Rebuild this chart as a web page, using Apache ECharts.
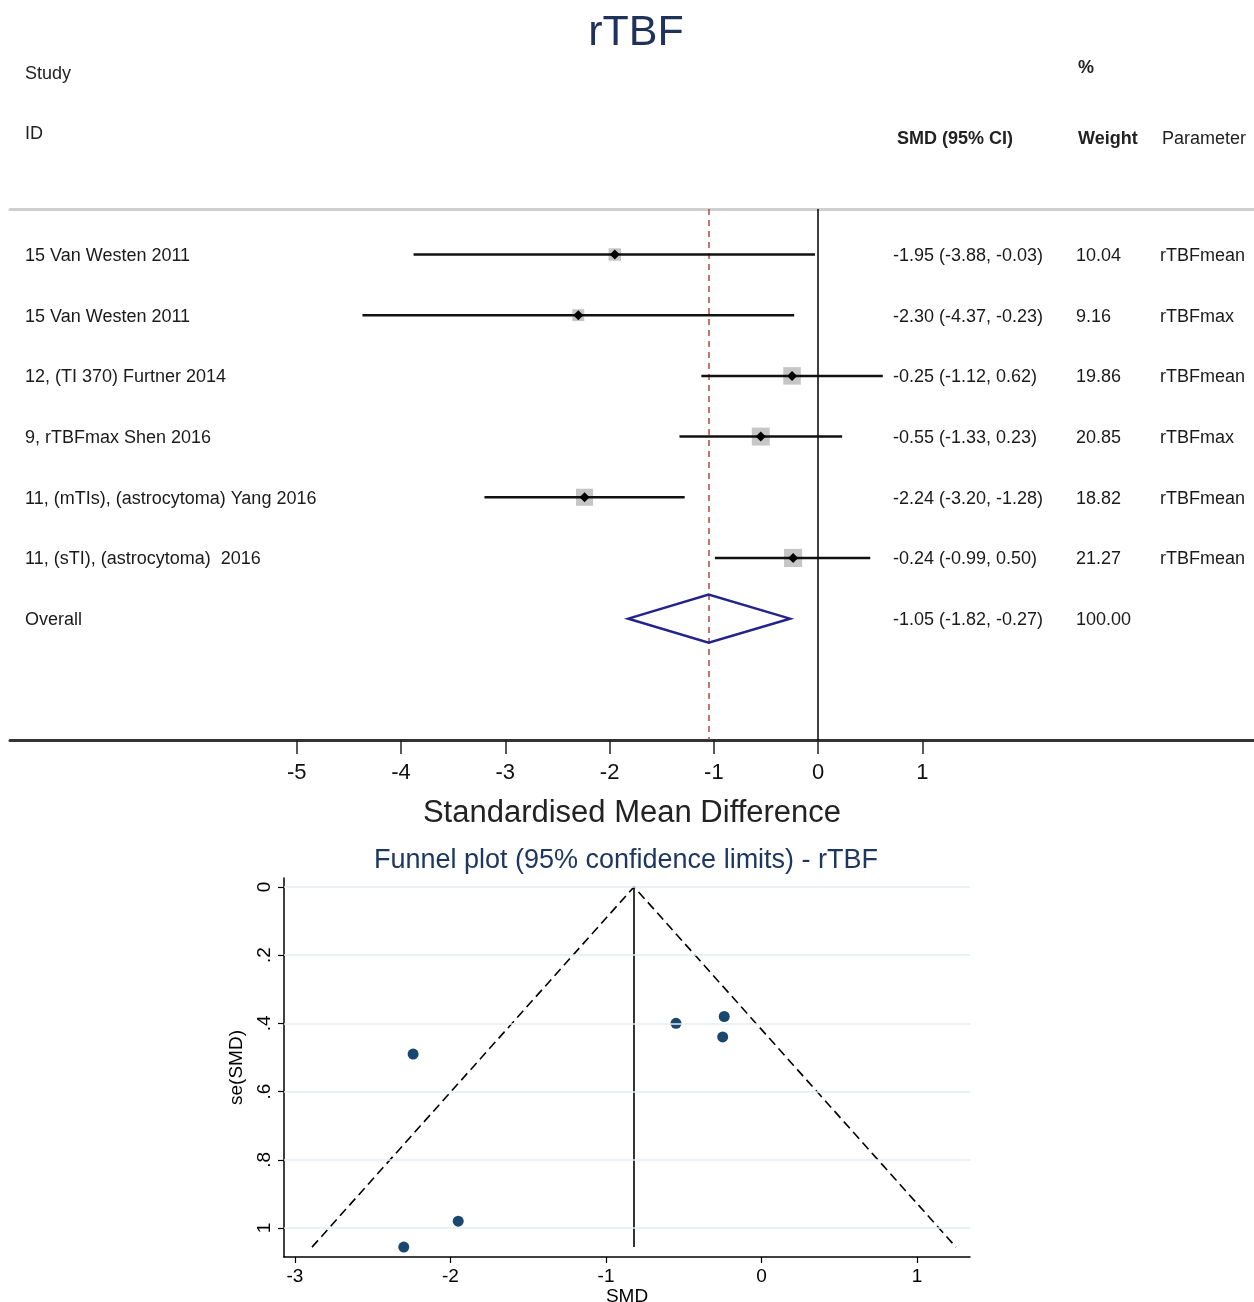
<!DOCTYPE html>
<html><head><meta charset="utf-8">
<script src="https://cdn.jsdelivr.net/npm/echarts@6/dist/echarts.min.js"></script>
<style>html,body{margin:0;padding:0;background:#fff}#c{width:1254px;height:1302px}</style>
</head><body><div id="c"></div><script>
// ---- forest plot data ----
const studies = ['15 Van Westen 2011','15 Van Westen 2011','12, (TI 370) Furtner 2014','9, rTBFmax Shen 2016','11, (mTIs), (astrocytoma) Yang 2016','11, (sTI), (astrocytoma)  2016'];
const smd = [-1.95,-2.30,-0.25,-0.55,-2.24,-0.24];
const ciLow = [-3.88,-4.37,-1.12,-1.33,-3.20,-0.99];
const ciHigh = [-0.03,-0.23,0.62,0.23,-1.28,0.50];
const weights = [10.04,9.16,19.86,20.85,18.82,21.27];
const params = ['rTBFmean','rTBFmax','rTBFmean','rTBFmax','rTBFmean','rTBFmean'];
const overallLabel = 'Overall';
const overallSmd = -1.05, overallLow = -1.82, overallHigh = -0.27, overallWeight = 100.00;
const forestTicks = [-5,-4,-3,-2,-1,0,1];
// ---- funnel plot data ----
const seSMD = [0.98,1.056,0.44,0.40,0.49,0.38];
const funnelCentre = -0.82;
const funnelBottomSe = 1.056;
const funnelLimits = [-2.89, 1.25];
const funnelXTicks = [-3,-2,-1,0,1];
const funnelYTicks = [0,0.2,0.4,0.6,0.8,1];

const FF = '"Liberation Sans", Arial, Helvetica, sans-serif';
const fmt2 = v => v.toFixed(2);
const ciText = (e,l,h) => fmt2(e)+' ('+fmt2(l)+', '+fmt2(h)+')';

const rows = smd.map((v,i)=>[v, ciLow[i], ciHigh[i], i+1, weights[i]]);
const overallRow = studies.length + 1;

const textRows = studies.map((s,i)=>({name:s, value:[0,i+1], smdTxt:ciText(smd[i],ciLow[i],ciHigh[i]), w:fmt2(weights[i]), p:params[i]}));
textRows.push({name:overallLabel, value:[0,overallRow], smdTxt:ciText(overallSmd,overallLow,overallHigh), w:fmt2(overallWeight), p:''});

const chart = echarts.init(document.getElementById('c'));
const txt = (x,y,t,extra) => ({type:'text', x, y, style:Object.assign({text:t, fontFamily:FF, fontSize:18, fill:'#222', align:'left', verticalAlign:'middle'}, extra||{})});

chart.setOption({
  animation:false,
  backgroundColor:'#fff',
  graphic:[
    txt(636,33,'rTBF',{fontSize:43, fill:'#1f3259', align:'center'}),
    txt(25,74,'Study'),
    txt(25,134,'ID'),
    txt(1078,68,'%',{fontWeight:'bold'}),
    txt(897,139,'SMD (95% CI)',{fontWeight:'bold'}),
    txt(1078,139,'Weight',{fontWeight:'bold'}),
    txt(1162,139,'Parameter'),
    txt(626,861,'Funnel plot (95% confidence limits) - rTBF',{fontSize:27, fill:'#1e3760', align:'center'})
  ],
  grid:[
    {left:10, right:0, top:209, height:531, outerBoundsMode:'none', containLabel:false},
    {left:284, width:686, top:878, height:379, outerBoundsMode:'none', containLabel:false}
  ],
  xAxis:[
    {gridIndex:0, type:'value', min:-7.75, max:4.18, position:'bottom',
     axisLine:{onZero:false, lineStyle:{color:'#333', width:3}},
     axisTick:{customValues:forestTicks, length:14, lineStyle:{color:'#222', width:1.5}},
     axisLabel:{customValues:forestTicks, fontSize:22, color:'#111', margin:22, fontFamily:FF},
     splitLine:{show:false},
     name:'Standardised Mean Difference', nameLocation:'middle', nameGap:58,
     nameTextStyle:{fontSize:31, color:'#222', fontFamily:FF}},
    {gridIndex:0, type:'value', min:-7.75, max:4.18, position:'top',
     axisLine:{onZero:false, lineStyle:{color:'#cfcfcf', width:3}},
     axisTick:{show:false}, axisLabel:{show:false}, splitLine:{show:false}},
    {gridIndex:1, type:'value', min:-3.07, max:1.34,
     axisLine:{onZero:false, lineStyle:{color:'#000', width:1.5}},
     axisTick:{customValues:funnelXTicks, length:6, lineStyle:{color:'#000', width:1.2}},
     axisLabel:{customValues:funnelXTicks, fontSize:19, color:'#000', margin:10, fontFamily:FF},
     splitLine:{show:false},
     name:'SMD', nameLocation:'middle', nameGap:28,
     nameTextStyle:{fontSize:19, color:'#000', fontFamily:FF}}
  ],
  yAxis:[
    {gridIndex:0, type:'value', min:0.25, max:9, inverse:true, show:false},
    {gridIndex:1, type:'value', min:-0.026, max:1.085, inverse:true,
     axisLine:{show:true, onZero:false, lineStyle:{color:'#000', width:1.5}},
     axisTick:{show:true, customValues:funnelYTicks, length:6, lineStyle:{color:'#000', width:1.2}},
     axisLabel:{customValues:funnelYTicks, rotate:90, fontSize:19, color:'#000', margin:10, fontFamily:FF,
       formatter:v => (v===0?'0':(Math.abs(v-1)<1e-9?'1':String(+v.toFixed(1)).replace('0.','.')))},
     splitLine:{show:false},
     name:'se(SMD)', nameLocation:'middle', nameGap:38, nameRotate:90,
     nameTextStyle:{fontSize:19, color:'#000', fontFamily:FF}}
  ],
  series:[
    {type:'custom', name:'studies', xAxisIndex:0, yAxisIndex:0, data:rows, z:5,
     renderItem:(p, api)=>{
       const row = api.value(3);
       const e = api.coord([api.value(0), row]);
       const l = api.coord([api.value(1), row]);
       const h = api.coord([api.value(2), row]);
       const s = 3.93*Math.sqrt(api.value(4));
       const d = 5;
       return {type:'group', children:[
         {type:'rect', shape:{x:e[0]-s/2, y:e[1]-s/2, width:s, height:s}, style:{fill:'#c6c6c6'}},
         {type:'line', shape:{x1:l[0], y1:l[1], x2:h[0], y2:h[1]}, style:{stroke:'#111', lineWidth:2.5}},
         {type:'polygon', shape:{points:[[e[0]-d,e[1]],[e[0],e[1]-d],[e[0]+d,e[1]],[e[0],e[1]+d]]}, style:{fill:'#000'}}
       ]};
     },
     markLine:{silent:true, symbol:'none', label:{show:false}, z:3,
       data:[
         {xAxis:0, lineStyle:{color:'#000', width:1.5, type:'solid'}},
         {xAxis:overallSmd, lineStyle:{color:'#b04848', width:1.5, type:[6,5]}}
       ]}
    },
    {type:'custom', name:'overall', xAxisIndex:0, yAxisIndex:0, z:6,
     data:[[overallLow, overallSmd, overallHigh, overallRow]],
     renderItem:(p, api)=>{
       const row = api.value(3);
       const l = api.coord([api.value(0), row]);
       const m = api.coord([api.value(1), row]);
       const h = api.coord([api.value(2), row]);
       const hh = 24;
       return {type:'polygon', shape:{points:[[l[0],l[1]],[m[0],m[1]-hh],[h[0],h[1]],[m[0],m[1]+hh]]},
               style:{fill:'none', stroke:'#23238a', lineWidth:2.5}};
     }
    },
    {type:'custom', name:'texts', xAxisIndex:0, yAxisIndex:0, z:7,
     data:textRows,
     renderItem:(p, api)=>{
       const r = textRows[p.dataIndex];
       const y = api.coord([0, api.value(1)])[1] + 1.5;
       const x0 = p.coordSys.x;
       const st = (t,x)=>({type:'text', x, y, style:{text:t, fontFamily:FF, fontSize:18, fill:'#1a1a1a', align:'left', verticalAlign:'middle'}});
       return {type:'group', children:[
         st(r.name, x0+15), st(r.smdTxt, x0+883), st(r.w, x0+1066), st(r.p, x0+1150)
       ]};
     }
    },
    {type:'line', name:'grid', xAxisIndex:2, yAxisIndex:1, data:[], z:1,
     markLine:{silent:true, symbol:'none', label:{show:false},
       lineStyle:{color:'#e4edf1', width:1.5, type:'solid'},
       data:funnelYTicks.map(v=>({yAxis:v}))}
    },
    {type:'line', name:'centre', xAxisIndex:2, yAxisIndex:1, z:3, symbol:'none',
     lineStyle:{color:'#000', width:1.6},
     data:[[funnelCentre,0],[funnelCentre,funnelBottomSe]]},
    {type:'line', name:'limits', xAxisIndex:2, yAxisIndex:1, z:3, symbol:'none',
     lineStyle:{color:'#000', width:1.6, type:[9,5]},
     data:[[funnelLimits[0],funnelBottomSe],[funnelCentre,0],[funnelLimits[1],funnelBottomSe]]},
    {type:'scatter', name:'studies-funnel', xAxisIndex:2, yAxisIndex:1, z:4,
     symbolSize:11, itemStyle:{color:'#1a476f', opacity:1},
     data:smd.map((v,i)=>[v, seSMD[i]])}
  ]
});
</script></body></html>
